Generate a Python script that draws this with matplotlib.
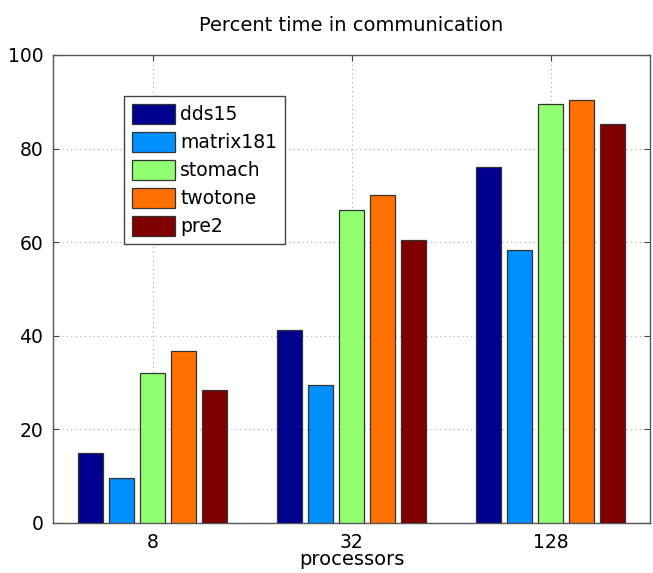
import numpy as np
import matplotlib
matplotlib.use("Agg")
import matplotlib.pyplot as plt

# data
procs = ['8', '32', '128']
series = ['dds15', 'matrix181', 'stomach', 'twotone', 'pre2']
dds15 = [15.0, 41.3, 76.0]
matrix181 = [9.6, 29.4, 58.3]
stomach = [32.0, 66.8, 89.5]
twotone = [36.8, 70.1, 90.4]
pre2 = [28.5, 60.4, 85.3]
colors = ['#00008F', '#0090FF', '#90FF70', '#FF7000', '#800000']

plt.rcParams['font.family'] = ['DejaVu Sans']

fig = plt.figure(figsize=(6.53, 5.73), dpi=100)
ax = fig.add_axes([53 / 653, 1 - 523 / 573, 597 / 653, 468 / 573])

x = np.arange(1, len(procs) + 1)
pitch = 0.155
width = 0.125
for i, (name, vals) in enumerate(zip(series, [dds15, matrix181, stomach, twotone, pre2])):
    ax.bar(x + (i - 2) * pitch, vals, width, color=colors[i], edgecolor='#333333',
           linewidth=0.9, label=name, zorder=3)

ax.set_xlim(0.5, 3.5)
ax.set_ylim(0, 100)
ax.set_xticks(x)
ax.set_xticklabels(procs)
ax.set_yticks(np.arange(0, 101, 20))
ax.tick_params(direction='in', labelsize=13.5, length=4, top=True, right=True,
               color='#444444', pad=7)
ax.grid(True, linestyle=(0, (1, 3)), color='#aaaaaa', linewidth=0.8, zorder=0)
for s in ax.spines.values():
    s.set_color('#555555')
    s.set_linewidth(1.0)

ax.set_title('Percent time in communication', fontsize=14, pad=17)
ax.set_xlabel('processors', fontsize=14, labelpad=-1)

leg = ax.legend(loc='upper left', bbox_to_anchor=(0.119, 0.912), fontsize=13.5,
                fancybox=False, framealpha=1, edgecolor='#444444',
                handlelength=2.3, handleheight=1.25, handletextpad=0.3,
                labelspacing=0.42, borderpad=0.4, borderaxespad=0)
leg.get_frame().set_linewidth(1.0)

fig.savefig('out.png', dpi=100)
